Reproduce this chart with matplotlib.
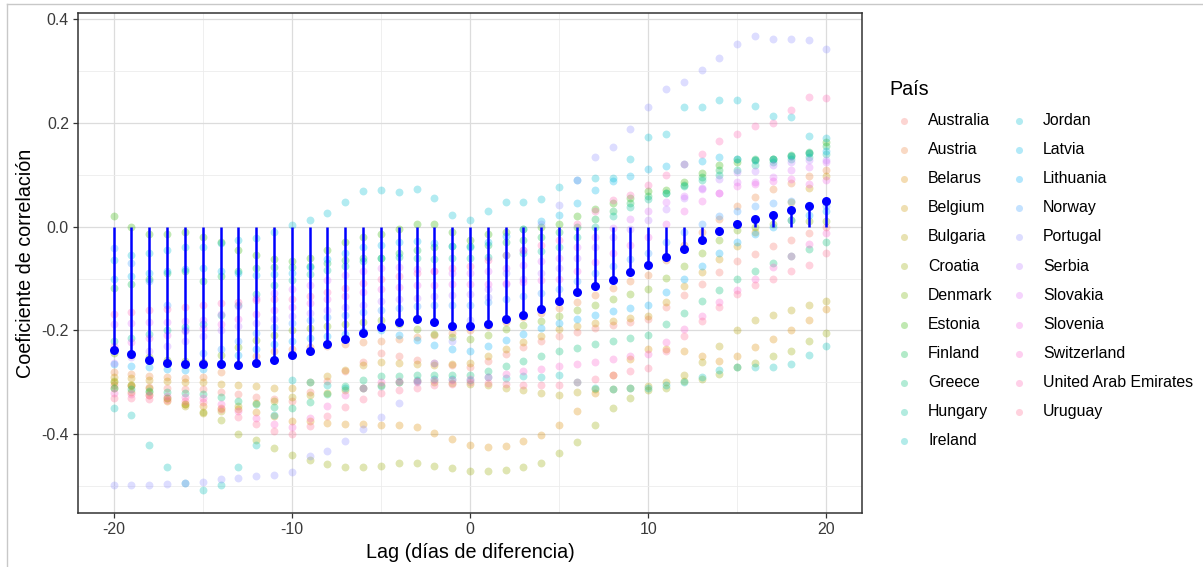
import numpy as np
import matplotlib
matplotlib.use("Agg")
import matplotlib.pyplot as plt
from matplotlib.lines import Line2D

plt.rcParams['font.family'] = ['Liberation Sans', 'DejaVu Sans']

lags = list(range(-20, 21))

australia = [-0.305, -0.307, -0.309, -0.311, -0.312, -0.313, -0.318, -0.323, -0.328, -0.332, -0.335,
             -0.318, -0.298, -0.278, -0.260, -0.244, -0.250, -0.256, -0.262, -0.267, -0.270,
             -0.258, -0.245, -0.232, -0.220, -0.210, -0.203, -0.196, -0.190, -0.184, -0.178,
             -0.155, -0.132, -0.110, -0.088, -0.067, -0.052, -0.038, -0.025, -0.012, 0.000]
austria = [-0.281, -0.284, -0.287, -0.290, -0.291, -0.290, -0.280, -0.265, -0.250, -0.240, -0.235,
           -0.232, -0.229, -0.226, -0.223, -0.220, -0.216, -0.212, -0.208, -0.204, -0.200,
           -0.192, -0.184, -0.175, -0.166, -0.156, -0.145, -0.132, -0.118, -0.105, -0.094,
           -0.065, -0.035, -0.010, 0.015, 0.040, 0.058, 0.072, 0.085, 0.098, 0.110]
belarus = [-0.310, -0.318, -0.325, -0.335, -0.342, -0.345, -0.350, -0.352, -0.357, -0.365, -0.374,
           -0.375, -0.378, -0.380, -0.381, -0.383, -0.383, -0.387, -0.397, -0.410, -0.420,
           -0.424, -0.422, -0.414, -0.402, -0.382, -0.355, -0.320, -0.285, -0.255, -0.235,
           -0.236, -0.240, -0.250, -0.258, -0.250, -0.232, -0.217, -0.200, -0.180, -0.158]
belgium = [-0.290, -0.292, -0.295, -0.297, -0.299, -0.300, -0.303, -0.306, -0.308, -0.310, -0.310,
           -0.300, -0.288, -0.277, -0.267, -0.260, -0.262, -0.265, -0.266, -0.264, -0.262,
           -0.250, -0.236, -0.222, -0.210, -0.198, -0.192, -0.186, -0.181, -0.176, -0.172,
           -0.145, -0.115, -0.088, -0.062, -0.038, -0.010, 0.020, 0.048, 0.075, 0.097]
bulgaria = [-0.300, -0.305, -0.310, -0.330, -0.345, -0.360, -0.355, -0.345, -0.340, -0.335, -0.329,
            -0.325, -0.320, -0.315, -0.310, -0.305, -0.300, -0.298, -0.300, -0.302, -0.304,
            -0.306, -0.310, -0.315, -0.320, -0.325, -0.318, -0.312, -0.312, -0.310, -0.308,
            -0.300, -0.285, -0.260, -0.230, -0.200, -0.180, -0.170, -0.160, -0.150, -0.144]
croatia = [-0.297, -0.305, -0.318, -0.330, -0.342, -0.358, -0.372, -0.400, -0.411, -0.427, -0.440,
           -0.450, -0.458, -0.463, -0.463, -0.462, -0.456, -0.455, -0.461, -0.466, -0.470,
           -0.470, -0.468, -0.463, -0.455, -0.437, -0.415, -0.383, -0.349, -0.330, -0.315,
           -0.310, -0.298, -0.293, -0.283, -0.270, -0.262, -0.250, -0.240, -0.221, -0.204]
denmark = [-0.244, -0.248, -0.252, -0.256, -0.258, -0.260, -0.248, -0.232, -0.218, -0.208, -0.200,
           -0.196, -0.192, -0.188, -0.184, -0.180, -0.188, -0.198, -0.206, -0.212, -0.216,
           -0.208, -0.198, -0.190, -0.181, -0.172, -0.160, -0.150, -0.140, -0.130, -0.120,
           -0.098, -0.075, -0.050, -0.025, -0.006, 0.000, 0.005, 0.012, 0.010, 0.010]
estonia = [0.021, 0.000, -0.015, -0.015, -0.011, -0.020, -0.030, -0.045, -0.055, -0.062, -0.067,
           -0.060, -0.045, -0.030, -0.020, -0.015, -0.005, 0.006, 0.005, -0.010, -0.025,
           -0.015, -0.010, -0.005, 0.000, 0.006, 0.020, 0.035, 0.046, 0.055, 0.068,
           0.071, 0.087, 0.104, 0.118, 0.125, 0.128, 0.130, 0.136, 0.142, 0.164]
finland = [-0.119, -0.110, -0.100, -0.090, -0.085, -0.105, -0.095, -0.085, -0.080, -0.077, -0.077,
           -0.075, -0.070, -0.065, -0.060, -0.060, -0.050, -0.045, -0.040, -0.038, -0.038,
           -0.035, -0.030, -0.025, -0.020, -0.010, 0.000, 0.015, 0.030, 0.045, 0.060,
           0.065, 0.080, 0.095, 0.110, 0.130, 0.130, 0.130, 0.138, 0.144, 0.156]
greece = [-0.310, -0.313, -0.316, -0.319, -0.321, -0.323, -0.329, -0.336, -0.342, -0.347, -0.350,
          -0.338, -0.322, -0.308, -0.296, -0.288, -0.287, -0.286, -0.286, -0.286, -0.286,
          -0.278, -0.268, -0.258, -0.249, -0.240, -0.233, -0.226, -0.220, -0.214, -0.209,
          -0.188, -0.166, -0.144, -0.122, -0.100, -0.085, -0.070, -0.056, -0.043, -0.030]
hungary = [-0.220, -0.214, -0.206, -0.200, -0.193, -0.188, -0.170, -0.150, -0.130, -0.112, -0.102,
           -0.092, -0.083, -0.075, -0.066, -0.060, -0.058, -0.060, -0.062, -0.061, -0.060,
           -0.058, -0.055, -0.050, -0.046, -0.040, -0.020, 0.000, 0.020, 0.038, 0.053,
           0.065, 0.078, 0.090, 0.100, 0.110, 0.118, 0.125, 0.130, 0.135, 0.140]
ireland = [-0.350, -0.362, -0.420, -0.464, -0.494, -0.508, -0.498, -0.464, -0.420, -0.362, -0.296,
           -0.300, -0.305, -0.310, -0.310, -0.307, -0.300, -0.296, -0.293, -0.294, -0.295,
           -0.290, -0.292, -0.288, -0.290, -0.285, -0.300, -0.310, -0.312, -0.310, -0.310,
           -0.305, -0.300, -0.290, -0.277, -0.270, -0.270, -0.270, -0.265, -0.248, -0.229]
jordan = [-0.065, -0.055, -0.050, -0.045, -0.040, -0.039, -0.032, -0.026, -0.021, -0.010, 0.004,
          0.013, 0.027, 0.047, 0.069, 0.071, 0.067, 0.072, 0.056, 0.022, 0.012,
          0.031, 0.047, 0.047, 0.054, 0.077, 0.090, 0.093, 0.094, 0.130, 0.172,
          0.179, 0.231, 0.231, 0.244, 0.245, 0.233, 0.213, 0.212, 0.174, 0.171]
latvia = [-0.101, -0.095, -0.090, -0.085, -0.082, -0.080, -0.085, -0.090, -0.094, -0.092, -0.090,
          -0.078, -0.062, -0.050, -0.040, -0.035, -0.030, -0.028, -0.032, -0.038, -0.040,
          -0.030, -0.018, -0.005, 0.010, 0.023, 0.045, 0.070, 0.088, 0.098, 0.112,
          0.116, 0.120, 0.127, 0.134, 0.130, 0.128, 0.130, 0.136, 0.142, 0.146]
lithuania = [-0.265, -0.268, -0.271, -0.274, -0.276, -0.274, -0.262, -0.248, -0.235, -0.226, -0.220,
             -0.215, -0.210, -0.206, -0.202, -0.200, -0.208, -0.218, -0.228, -0.235, -0.240,
             -0.230, -0.218, -0.206, -0.195, -0.185, -0.178, -0.170, -0.163, -0.156, -0.150,
             -0.125, -0.100, -0.075, -0.050, -0.030, -0.015, 0.000, 0.012, 0.022, 0.030]
norway = [-0.041, -0.070, -0.105, -0.150, -0.200, -0.243, -0.235, -0.220, -0.205, -0.193, -0.186,
          -0.180, -0.175, -0.170, -0.165, -0.160, -0.156, -0.153, -0.150, -0.150, -0.150,
          -0.145, -0.140, -0.134, -0.127, -0.120, -0.105, -0.090, -0.075, -0.062, -0.050,
          -0.030, -0.010, 0.005, 0.020, 0.031, 0.040, 0.045, 0.050, 0.042, 0.039]
portugal = [-0.498, -0.498, -0.497, -0.496, -0.494, -0.492, -0.487, -0.485, -0.481, -0.478, -0.472,
            -0.442, -0.432, -0.413, -0.390, -0.367, -0.340, -0.300, -0.262, -0.221, -0.180,
            -0.135, -0.090, -0.045, 0.006, 0.042, 0.090, 0.135, 0.153, 0.188, 0.230,
            0.265, 0.278, 0.302, 0.326, 0.353, 0.368, 0.362, 0.361, 0.359, 0.342]
serbia = [-0.262, -0.252, -0.240, -0.230, -0.220, -0.210, -0.200, -0.192, -0.185, -0.178, -0.172,
          -0.166, -0.160, -0.155, -0.150, -0.144, -0.140, -0.137, -0.134, -0.132, -0.130,
          -0.120, -0.110, -0.100, -0.090, -0.079, -0.060, -0.040, -0.020, -0.004, 0.012,
          0.035, 0.055, 0.075, 0.092, 0.105, 0.108, 0.119, 0.125, 0.129, 0.129]
slovakia = [-0.188, -0.186, -0.184, -0.183, -0.181, -0.180, -0.168, -0.152, -0.138, -0.128, -0.120,
            -0.112, -0.103, -0.094, -0.086, -0.080, -0.078, -0.082, -0.086, -0.089, -0.090,
            -0.086, -0.080, -0.074, -0.067, -0.060, -0.040, -0.020, -0.003, 0.015, 0.030,
            0.048, 0.060, 0.072, 0.065, 0.087, 0.086, 0.096, 0.110, 0.115, 0.125]
slovenia = [-0.230, -0.222, -0.215, -0.208, -0.202, -0.196, -0.188, -0.178, -0.168, -0.160, -0.155,
            -0.148, -0.140, -0.133, -0.126, -0.120, -0.116, -0.113, -0.112, -0.111, -0.110,
            -0.110, -0.108, -0.106, -0.103, -0.100, -0.085, -0.068, -0.050, -0.035, -0.020,
            0.005, 0.030, 0.050, 0.065, 0.078, 0.082, 0.088, 0.092, 0.082, 0.090]
switzerland = [-0.320, -0.322, -0.324, -0.326, -0.328, -0.330, -0.342, -0.355, -0.368, -0.380, -0.387,
               -0.368, -0.345, -0.325, -0.310, -0.300, -0.298, -0.297, -0.296, -0.295, -0.294,
               -0.289, -0.284, -0.279, -0.274, -0.269, -0.265, -0.260, -0.255, -0.250, -0.246,
               -0.222, -0.197, -0.172, -0.146, -0.122, -0.100, -0.078, -0.056, -0.034, -0.013]
uae = [-0.169, -0.165, -0.160, -0.158, -0.155, -0.150, -0.148, -0.145, -0.142, -0.140, -0.139,
       -0.133, -0.126, -0.118, -0.109, -0.100, -0.095, -0.090, -0.085, -0.080, -0.075,
       -0.065, -0.055, -0.045, -0.035, -0.025, 0.005, 0.030, 0.052, 0.062, 0.081,
       0.100, 0.120, 0.140, 0.165, 0.179, 0.194, 0.199, 0.225, 0.249, 0.248]
uruguay = [-0.330, -0.331, -0.333, -0.334, -0.336, -0.337, -0.352, -0.367, -0.381, -0.393, -0.400,
           -0.385, -0.365, -0.347, -0.332, -0.320, -0.315, -0.310, -0.306, -0.303, -0.300,
           -0.302, -0.304, -0.305, -0.306, -0.306, -0.300, -0.293, -0.286, -0.279, -0.272,
           -0.240, -0.210, -0.182, -0.155, -0.129, -0.112, -0.100, -0.086, -0.073, -0.051]

mean_corr = [-0.238, -0.246, -0.256, -0.263, -0.265, -0.265, -0.265, -0.266, -0.262, -0.256,
             -0.247, -0.240, -0.227, -0.217, -0.204, -0.194, -0.184, -0.178, -0.183, -0.192,
             -0.192, -0.188, -0.178, -0.170, -0.159, -0.144, -0.126, -0.114, -0.102, -0.088,
             -0.073, -0.059, -0.043, -0.026, -0.009, 0.006, 0.015, 0.022, 0.033, 0.040, 0.050]

countries = ["Australia", "Austria", "Belarus", "Belgium", "Bulgaria", "Croatia", "Denmark",
             "Estonia", "Finland", "Greece", "Hungary", "Ireland", "Jordan", "Latvia",
             "Lithuania", "Norway", "Portugal", "Serbia", "Slovakia", "Slovenia",
             "Switzerland", "United Arab Emirates", "Uruguay"]
series = [australia, austria, belarus, belgium, bulgaria, croatia, denmark, estonia, finland,
          greece, hungary, ireland, jordan, latvia, lithuania, norway, portugal, serbia,
          slovakia, slovenia, switzerland, uae, uruguay]

x_ticks = [-20, -10, 0, 10, 20]
x_labels = ["-20", "-10", "0", "10", "20"]
y_ticks = [-0.4, -0.2, 0.0, 0.2, 0.4]
y_labels = ["-0.4", "-0.2", "0.0", "0.2", "0.4"]


def hcl_color(h, c=100.0, l=65.0):
    hr = np.deg2rad(h)
    u = c * np.cos(hr)
    v = c * np.sin(hr)
    Xn, Yn, Zn = 95.047, 100.0, 108.883
    den = Xn + 15 * Yn + 3 * Zn
    un, vn = 4 * Xn / den, 9 * Yn / den
    Y = Yn * ((l + 16) / 116) ** 3
    up = u / (13 * l) + un
    vp = v / (13 * l) + vn
    X = Y * 9 * up / (4 * vp)
    Z = Y * (12 - 3 * up - 20 * vp) / (4 * vp)
    X, Y, Z = X / 100, Y / 100, Z / 100
    r = 3.2404542 * X - 1.5371385 * Y - 0.4985314 * Z
    g = -0.9692660 * X + 1.8760108 * Y + 0.0415560 * Z
    b = 0.0556434 * X - 0.2040259 * Y + 1.0572252 * Z
    out = []
    for ch in (r, g, b):
        ch = 12.92 * ch if ch <= 0.0031308 else 1.055 * ch ** (1 / 2.4) - 0.055
        out.append(min(max(ch, 0.0), 1.0))
    return tuple(out)


n = len(countries)
colors = [hcl_color(15 + 360.0 / n * i) for i in range(n)]

W, H = 1203, 567
fig = plt.figure(figsize=(W / 100, H / 100), dpi=100)
ax = fig.add_axes([78 / W, 1 - 513 / H, (862 - 78) / W, (513 - 13) / H])

for name, vals, col in zip(countries, series, colors):
    ax.scatter(lags, vals, s=32, color=col, alpha=0.3, linewidths=0, label=name, zorder=2)

ax.vlines(lags, 0, mean_corr, color='#0000FF', lw=1.8, zorder=3)
ax.scatter(lags, mean_corr, s=42, color='#0000FF', linewidths=0, zorder=4)

allv = np.concatenate([np.array(s) for s in series])
lo, hi = allv.min(), allv.max()
pad = 0.05 * (hi - lo)
ax.set_ylim(lo - pad, hi + pad)
ax.set_xlim(-22, 22)

ax.set_xticks(x_ticks)
ax.set_xticklabels(x_labels)
ax.set_yticks(y_ticks)
ax.set_yticklabels(y_labels)
ax.set_xticks([-15, -5, 5, 15], minor=True)
ax.set_yticks([-0.5, -0.3, -0.1, 0.1, 0.3], minor=True)
ax.grid(True, which='major', color='#dcdcdc', lw=0.9, zorder=0)
ax.grid(True, which='minor', color='#ececec', lw=0.6, zorder=0)
ax.set_axisbelow(True)
ax.tick_params(which='minor', length=0)
ax.tick_params(which='major', length=3.5, width=0.9, color='#333333',
               labelsize=11.4, labelcolor='#3a3a3a', pad=3)
for sp in ax.spines.values():
    sp.set_color('#333333')
    sp.set_linewidth(1.1)

ax.set_xlabel("Lag (días de diferencia)", fontsize=14.2, color='black', labelpad=4)
ax.set_ylabel("Coeficiente de correlación", fontsize=14.2, color='black', labelpad=5)

leg = ax.legend(loc='upper left', bbox_to_anchor=(889 / W, 1 - 80 / H),
                bbox_transform=fig.transFigure, ncol=2, frameon=False,
                title="País", title_fontsize=14.2, fontsize=11.4, alignment='left',
                borderpad=0, labelspacing=0.89, handlelength=1.9, handletextpad=0.57,
                columnspacing=0.7, markerscale=0.9, borderaxespad=0)

fig.add_artist(Line2D([6.5 / W, 6.5 / W], [0, 1 - 3.5 / H], transform=fig.transFigure,
                      color='#c8c8c8', lw=1.0))
fig.add_artist(Line2D([6.5 / W, 1], [1 - 3.5 / H, 1 - 3.5 / H], transform=fig.transFigure,
                      color='#c8c8c8', lw=1.0))

fig.savefig("out.png", dpi=100)
